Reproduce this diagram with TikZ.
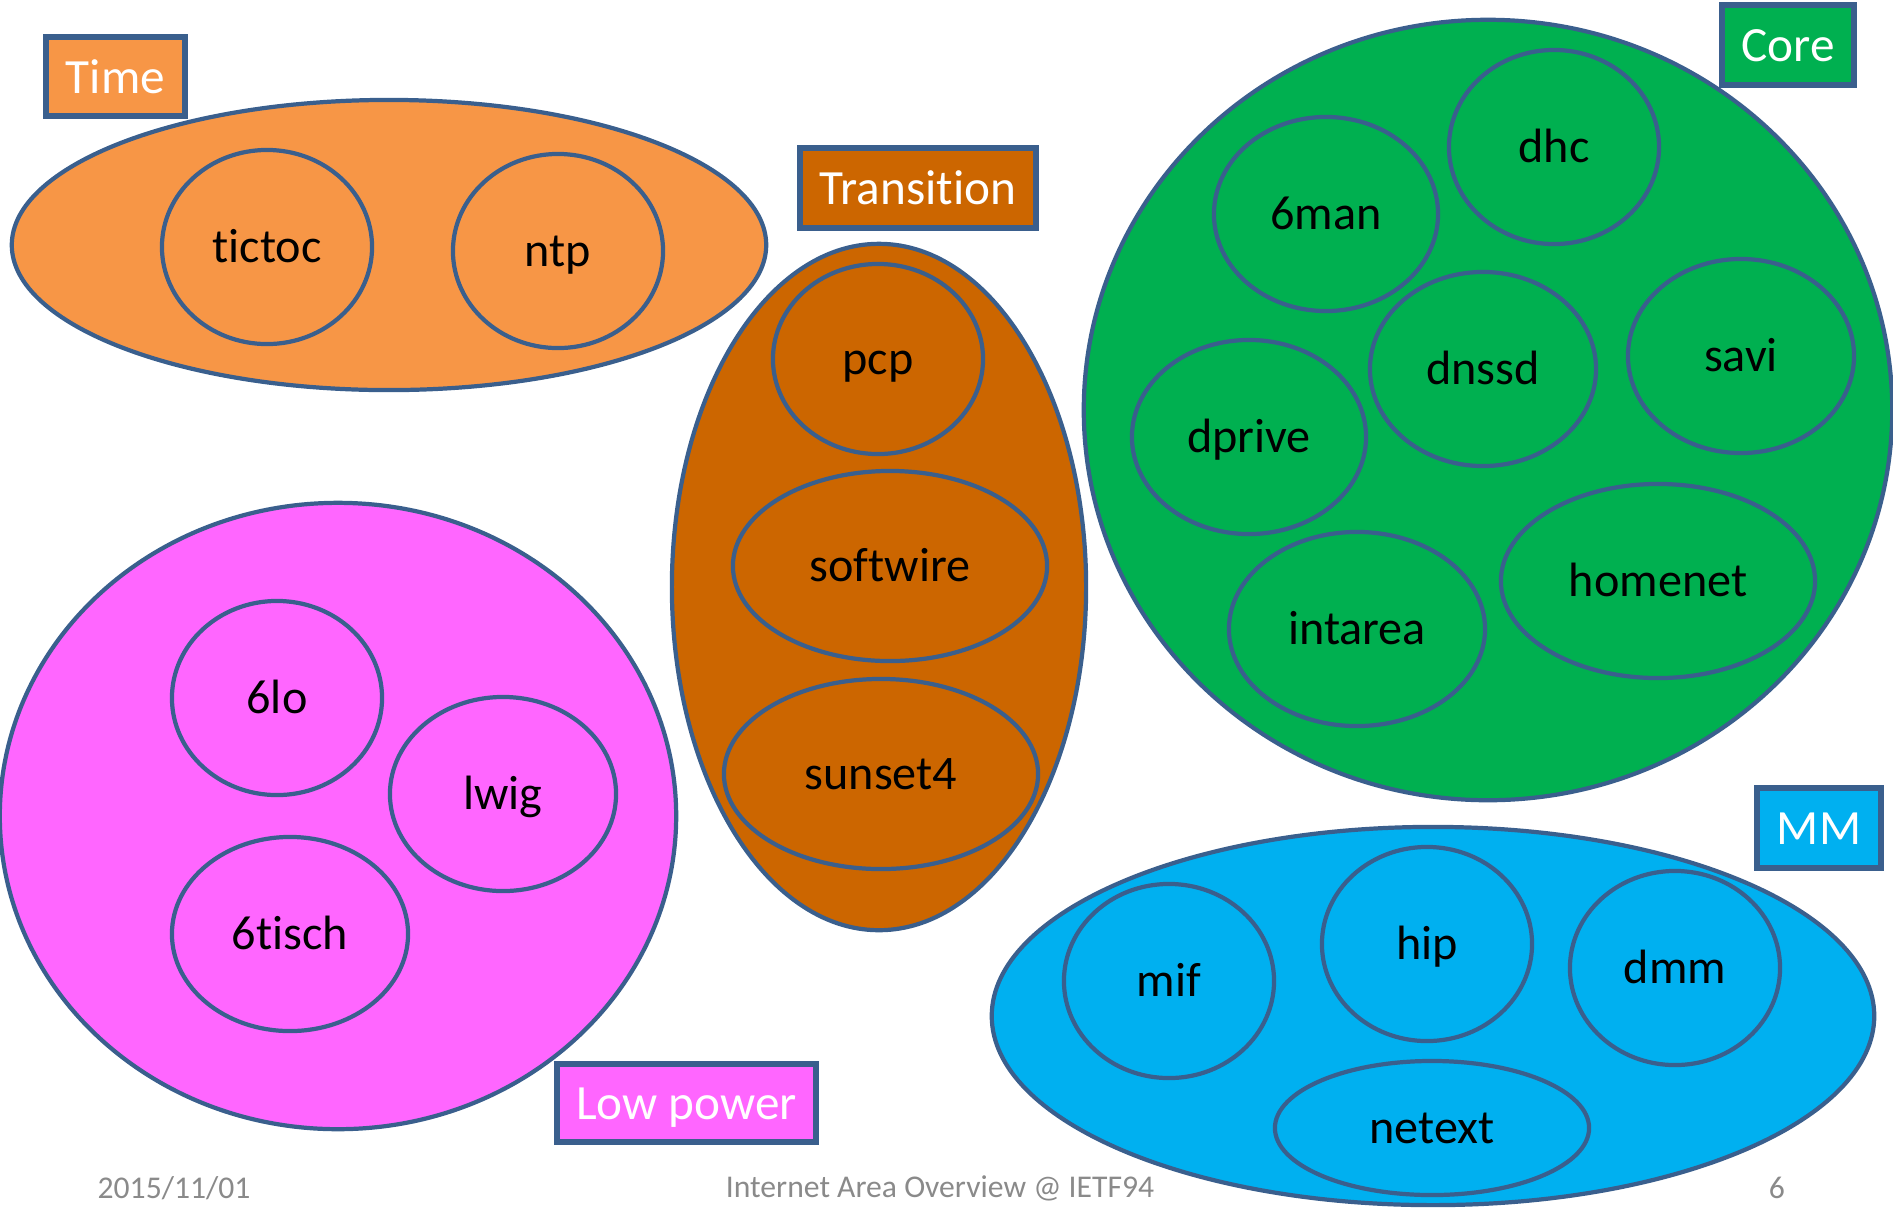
\documentclass[tikz,border=0pt]{standalone}
\usepackage{fontspec}
\setmainfont[Ligatures=NoCommon]{Carlito}
\usetikzlibrary{shapes.geometric}
\definecolor{edgeblue}{HTML}{3A5F8D}
\definecolor{timefill}{HTML}{F79646}
\definecolor{transfill}{HTML}{CC6600}
\definecolor{corefill}{HTML}{00B050}
\definecolor{lowfill}{HTML}{FF66FF}
\definecolor{mmfill}{HTML}{00B0F0}
\definecolor{footgray}{HTML}{8A8A8A}
\tikzset{
  area/.style={ellipse, draw=edgeblue, line width=1.2pt, inner sep=0pt},
  wg/.style={ellipse, draw=edgeblue, line width=1.2pt, inner sep=0pt,
    font=\fontsize{13.7}{16}\selectfont, text=black,
    text height=10pt, text depth=1.4pt},
  tag/.style={rectangle, draw=edgeblue, line width=1.6pt, inner sep=0pt,
    font=\fontsize{14}{16}\selectfont, text=white,
    text height=11pt, text depth=1.4pt},
  foot/.style={font=\fontsize{9}{11}\selectfont, text=footgray}
}
\begin{document}
\begin{tikzpicture}[x=0.01cm, y=-0.01cm]
\useasboundingbox (0,0) rectangle (1893,1211);

% Time area
\node[area, fill=timefill, minimum width=7.54cm, minimum height=2.90cm] (time) at (389,245) {};
\node[wg, fill=timefill, minimum width=2.10cm, minimum height=1.94cm] (tictoc) at (267,247) {tictoc};
\node[wg, fill=timefill, minimum width=2.10cm, minimum height=1.94cm] (ntp) at (558,251) {ntp};
\node[tag, fill=timefill, minimum width=1.39cm, minimum height=0.79cm] (timetag) at (115.5,76.5) {Time};

% Transition area
\node[area, fill=transfill, minimum width=4.14cm, minimum height=6.86cm] (trans) at (879,587) {};
\node[wg, fill=transfill, minimum width=2.10cm, minimum height=1.90cm] (pcp) at (878,359) {pcp};
\node[wg, fill=transfill, minimum width=3.14cm, minimum height=1.90cm] (softwire) at (890,566) {softwire};
\node[wg, fill=transfill, minimum width=3.14cm, minimum height=1.90cm] (sunset) at (881,774) {sunset4};
\node[tag, fill=transfill, minimum width=2.36cm, minimum height=0.80cm] (transtag) at (918,188) {Transition};

% Core area
\node[area, fill=corefill, minimum width=8.08cm, minimum height=7.80cm] (core) at (1488,410) {};
\node[wg, fill=corefill, minimum width=2.10cm, minimum height=1.94cm] (dhc) at (1554,147) {dhc};
\node[wg, fill=corefill, minimum width=2.24cm, minimum height=1.94cm] (sixman) at (1326,214) {6man};
\node[wg, fill=corefill, minimum width=2.26cm, minimum height=1.94cm] (dnssd) at (1483,369) {dnssd};
\node[wg, fill=corefill, minimum width=2.26cm, minimum height=1.94cm] (savi) at (1741,356) {savi};
\node[wg, fill=corefill, minimum width=2.34cm, minimum height=1.94cm] (dprive) at (1249,437) {dprive};
\node[wg, fill=corefill, minimum width=2.56cm, minimum height=1.94cm] (intarea) at (1357,629) {intarea};
\node[wg, fill=corefill, minimum width=3.14cm, minimum height=1.94cm] (homenet) at (1658,581) {homenet};
\node[tag, fill=corefill, minimum width=1.32cm, minimum height=0.80cm] (coretag) at (1788,45) {Core};

% Low power area
\node[area, fill=lowfill, minimum width=6.76cm, minimum height=6.26cm] (low) at (338,816) {};
\node[wg, fill=lowfill, minimum width=2.10cm, minimum height=1.94cm] (sixlo) at (277,698) {6lo};
\node[wg, fill=lowfill, minimum width=2.26cm, minimum height=1.94cm] (lwig) at (503,794) {lwig};
\node[wg, fill=lowfill, minimum width=2.36cm, minimum height=1.94cm] (sixtisch) at (290,934) {6tisch};
\node[tag, fill=lowfill, minimum width=2.59cm, minimum height=0.78cm] (lowtag) at (686.5,1103) {Low power};

% MM area
\node[area, fill=mmfill, minimum width=8.82cm, minimum height=3.78cm] (mm) at (1433,1016) {};
\node[wg, fill=mmfill, minimum width=2.10cm, minimum height=1.94cm] (mif) at (1169,981) {mif};
\node[wg, fill=mmfill, minimum width=2.10cm, minimum height=1.94cm] (hip) at (1427,944) {hip};
\node[wg, fill=mmfill, minimum width=2.10cm, minimum height=1.94cm] (dmm) at (1675,968) {dmm};
\node[wg, fill=mmfill, minimum width=3.14cm, minimum height=1.34cm] (netext) at (1432,1128) {netext};
\node[tag, fill=mmfill, minimum width=1.24cm, minimum height=0.80cm] (mmtag) at (1819,828) {MM};

% Footer
\node[foot] (date) at (174,1188) {2015/11/01};
\node[foot] (title) at (940,1188) {Internet Area Overview @ IETF94};
\node[foot] (page) at (1777,1188) {6};
\end{tikzpicture}
\end{document}
